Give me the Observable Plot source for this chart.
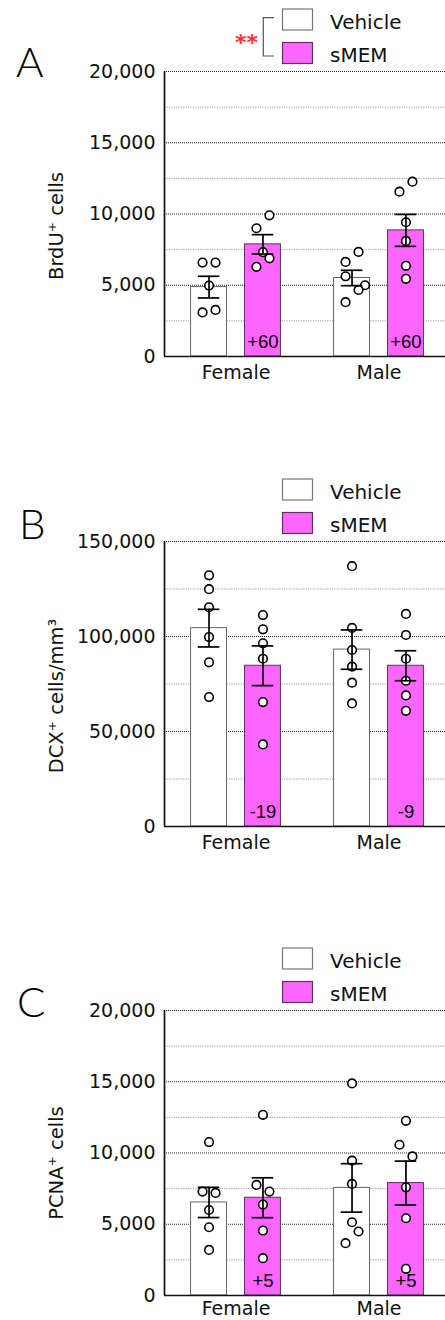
<!DOCTYPE html>
<html><head><meta charset="utf-8">
<script src="https://cdn.jsdelivr.net/npm/d3@7"></script>
<script src="https://cdn.jsdelivr.net/npm/@observablehq/plot@0.6"></script>
<style>
body{margin:0;background:#fff;}
#wrap{position:relative;width:445px;height:1320px;overflow:hidden;}
.panel{position:absolute;left:0;width:445px;}
.overlay{position:absolute;left:0;top:0;}
</style></head>
<body><div id="wrap"></div>
<script>
// ---- data ----
const sexes = ["Female", "Male"];
const treatments = ["Vehicle", "sMEM"];
const letters = ["A", "B", "C"];
const yLabels = ["BrdU⁺ cells", "DCX⁺ cells/mm³", "PCNA⁺ cells"];
const yMaxes = [20000, 150000, 20000];
const ySteps = [5000, 50000, 5000];
// order of groups: Female-Vehicle, Female-sMEM, Male-Vehicle, Male-sMEM
const brduMean = [4870, 7870, 5510, 8850];
const brduSem = [760, 680, 540, 1120];
const brduPoints = [[6590, 6590, 4980, 3090, 3270], [9910, 9000, 7320, 6890, 6290], [7340, 6640, 5630, 5000, 4670, 3810], [12270, 11570, 9420, 8110, 6360, 5450]];
const brduJitter = [[-1, 1, 0, -1, 1], [1, -1, 0, 1, -1], [1, -1, -1, 2, 1, -1], [1, -1, 0, 0, 0, 0]];
const brduChange = ["+60", "+60"];
const dcxMean = [104400, 84600, 93100, 84600];
const dcxSem = [9900, 10450, 10350, 7900];
const dcxPoints = [[132200, 124900, 115400, 99700, 86400, 68100], [111300, 103800, 96400, 88300, 65500, 43200], [137000, 104500, 92900, 84100, 75700, 64800], [111900, 100800, 88300, 76700, 69000, 60900]];
const dcxJitter = [[0, 0, 0, 0, 0, 0], [0, 0, 0, 0, 0, 0], [0, 0, 0, 0, 0, 0], [0, 0, 0, 0, 0, 0]];
const dcxChange = ["-19", "-9"];
const pcnaMean = [6530, 6860, 7550, 7890];
const pcnaSem = [1060, 1400, 1700, 1540];
const pcnaPoints = [[10770, 7290, 7200, 6000, 4790, 3200], [12680, 7760, 7290, 6380, 4560, 2620], [14880, 9460, 7830, 5140, 4490, 3670], [12260, 10580, 9760, 7590, 5420, 1870]];
const pcnaJitter = [[0, -1, 1, 0, 0, 0], [0, -1, 1, 0, 0, 0], [0, 0, 0, 0, 1, -1], [0, -1, 1, 0, 0, 0]];
const pcnaChange = ["+5", "+5"];
const sigMarks = ["**", "", ""];

const means = [brduMean, dcxMean, pcnaMean];
const sems = [brduSem, dcxSem, pcnaSem];
const pointSets = [brduPoints, dcxPoints, pcnaPoints];
const jitterSets = [brduJitter, dcxJitter, pcnaJitter];
const changes = [brduChange, dcxChange, pcnaChange];

// ---- layout / style ----
const STEP = 143.2;
const offset = 27 / STEP, halfBar = 18 / STEP, capHalf = 10.8 / STEP, jitUnit = 6.5 / STEP;
const panelTops = [0, 470, 939];
const letterPos = [[16, 76.7], [19, 69], [17, 77.7]];
const labelDy = [12, 12, 10];
const xPad = [9, 9, 6];
const VCOL = "#ffffff", SCOL = "#ff66ff";
const FONT = "DejaVu Sans";
const wrap = document.getElementById("wrap");

for (let k = 0; k < 3; k++) {
  const bars = [];
  sexes.forEach((s, si) => treatments.forEach((t, ti) => {
    const i = si * 2 + ti;
    bars.push({sex: s, treat: t, pos: si + (ti ? offset : -offset), mean: means[k][i], sem: sems[k][i], change: ti ? changes[k][si] : ""});
  }));
  const pts = bars.flatMap((b, i) => pointSets[k][i].map((v, j) => ({pos: b.pos + jitterSets[k][i][j] * jitUnit, value: v})));
  const yMax = yMaxes[k], yStep = ySteps[k];
  const major = d3.range(0, yMax + 1, yStep);
  const minor = d3.range(yStep / 2, yMax, yStep);

  const chart = Plot.plot({
    width: 445, height: 381,
    marginLeft: 164, marginRight: 0, marginTop: 71, marginBottom: 25,
    style: {fontFamily: FONT, fontSize: "19px", color: "#111", background: "transparent", overflow: "visible"},
    x: {domain: [-0.5, 1.5], range: [164, 450]},
    y: {domain: [0, yMax]},
    marks: [
      Plot.ruleY(minor, {stroke: "#999", strokeDasharray: "1.2,1.2", strokeWidth: 1}),
      Plot.ruleY(major.filter(v => v > 0), {stroke: "#222", strokeDasharray: "1,1", strokeWidth: 1}),
      Plot.rectY(bars.filter(d => d.treat === "Vehicle"), {x1: d => d.pos - halfBar, x2: d => d.pos + halfBar, y1: () => 0, y2: "mean", fill: VCOL, stroke: "#666", strokeWidth: 1}),
      Plot.rectY(bars.filter(d => d.treat === "sMEM"), {x1: d => d.pos - halfBar, x2: d => d.pos + halfBar, y1: () => 0, y2: "mean", fill: SCOL, stroke: "#5a345a", strokeWidth: 1}),
      Plot.text(bars.filter(d => d.treat === "sMEM"), {x: "pos", y: () => 0, text: "change", lineAnchor: "bottom", dy: -9, fontFamily: "Liberation Sans", fontSize: 18.5, fill: "#000"}),
      Plot.dot(pts, {x: "pos", y: "value", r: 4.3, stroke: "#000", strokeWidth: 1.6, fill: "#fff"}),
      Plot.ruleX(bars, {x: "pos", y1: d => d.mean - d.sem, y2: d => d.mean + d.sem, stroke: "#000", strokeWidth: 1.7}),
      Plot.ruleY(bars, {y: d => d.mean + d.sem, x1: d => d.pos - capHalf, x2: d => d.pos + capHalf, stroke: "#000", strokeWidth: 1.7}),
      Plot.ruleY(bars, {y: d => d.mean - d.sem, x1: d => d.pos - capHalf, x2: d => d.pos + capHalf, stroke: "#000", strokeWidth: 1.7}),
      Plot.ruleY([0], {stroke: "#111", strokeWidth: 1.7}),
      Plot.ruleX([-0.5], {y1: () => 0, y2: () => yMax, stroke: "#111", strokeWidth: 1.7}),
      Plot.axisY({ticks: major, tickSize: 0, tickPadding: 9, tickFormat: d3.format(","), label: null}),
      Plot.axisX({ticks: [0, 1], tickSize: 0, tickPadding: xPad[k], tickFormat: i => sexes[i], label: null}),
      Plot.text([yLabels[k]], {text: d => d, frameAnchor: "left", textAnchor: "middle", lineAnchor: "middle", rotate: -90, dx: -108, dy: labelDy[k], fontSize: 19.5})
    ]
  });

  const panel = document.createElement("div");
  panel.className = "panel";
  panel.style.top = panelTops[k] + "px";
  panel.style.height = "381px";
  panel.appendChild(chart);

  // overlay: panel letter + legend
  const ov = d3.create("svg").attr("class", "overlay").attr("width", 445).attr("height", 95)
    .style("font-family", FONT);
  ov.append("text").attr("x", letterPos[k][0]).attr("y", letterPos[k][1])
    .style("font-family", "Lato").style("font-weight", 300).style("font-size", "42px").text(letters[k]);
  const legendRows = [{label: treatments[0], fill: VCOL, stroke: "#777", y: 9}, {label: treatments[1], fill: SCOL, stroke: "#5a345a", y: 42.5}];
  legendRows.forEach(r => {
    ov.append("rect").attr("x", 282.5).attr("y", r.y).attr("width", 30).attr("height", 21)
      .attr("fill", r.fill).attr("stroke", r.stroke).attr("stroke-width", 1.2);
    ov.append("text").attr("x", 330).attr("y", r.y + 19.5).style("font-size", "20px").attr("fill", "#111").text(r.label);
  });
  if (sigMarks[k]) {
    ov.append("path").attr("d", "M274,17.7H263.3V56H274").attr("fill", "none").attr("stroke", "#555").attr("stroke-width", 1.2);
    ov.append("text").attr("x", 235).attr("y", 50).style("font-size", "22px").style("font-weight", "bold")
      .attr("fill", "#ff3333").text(sigMarks[k]);
  }
  panel.appendChild(ov.node());
  wrap.appendChild(panel);
}
</script></body></html>
